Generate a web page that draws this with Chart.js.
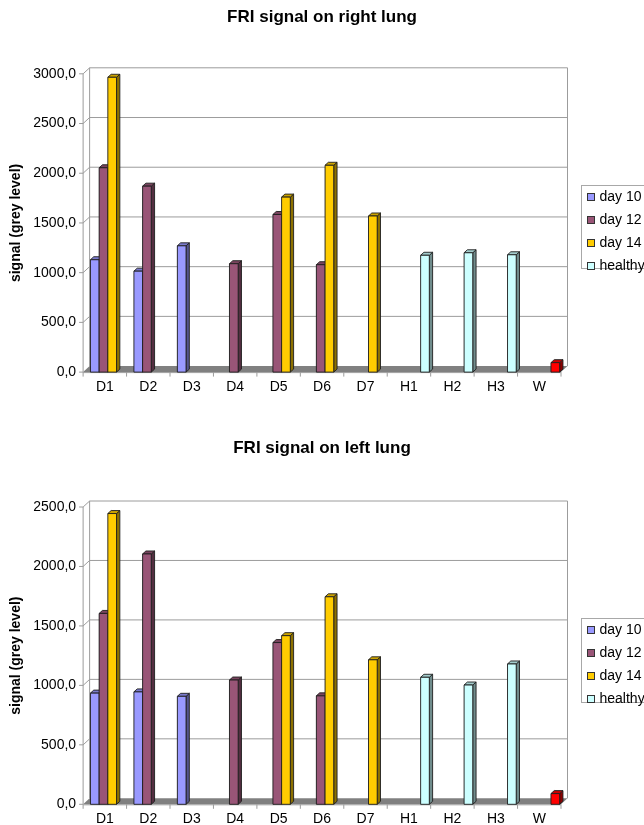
<!DOCTYPE html>
<html>
<head>
<meta charset="utf-8">
<script src="https://cdn.jsdelivr.net/npm/chart.js@4"></script>
<style>
  html, body { margin: 0; padding: 0; background: #fff; overflow: hidden; width: 644px; height: 825px; }
  canvas { position: absolute; left: 0; }
  #rightLung { top: 0; }
  #leftLung { top: 413px; }
</style>
</head>
<body>
<canvas id="rightLung" width="644" height="412"></canvas>
<canvas id="leftLung" width="644" height="422"></canvas>
<script>
// ---- data ----
const categories = ['D1', 'D2', 'D3', 'D4', 'D5', 'D6', 'D7', 'H1', 'H2', 'H3', 'W'];
const seriesNames = ['day 10', 'day 12', 'day 14', 'healthy'];
const seriesColors = ['#9999FF', '#995577', '#FFCC00', '#CCFFFF'];
const waterColor = '#FF0000';

// right lung signal
const rightDay10   = [1130, 1015, 1270, null, null, null, null, null, null, null, null];
const rightDay12   = [2055, 1870, null, 1090, 1585, 1080, null, null, null, null, null];
const rightDay14   = [2965, null, null, null, 1760, 2080, 1570, null, null, null, null];
const rightHealthy = [null, null, null, null, null, null, null, 1175, 1200, 1180, 95];
const rightTicks   = [0, 500, 1000, 1500, 2000, 2500, 3000];

// left lung signal
const leftDay10   = [935, 945, 908, null, null, null, null, null, null, null, null];
const leftDay12   = [1605, 2105, null, 1045, 1360, 912, null, null, null, null, null];
const leftDay14   = [2445, null, null, null, 1418, 1745, 1215, null, null, null, null];
const leftHealthy = [null, null, null, null, null, null, null, 1068, 1003, 1180, 90];
const leftTicks   = [0, 500, 1000, 1500, 2000, 2500];

// ---- drawing helpers ----
Chart.defaults.font.family = "'Liberation Sans', Arial, Helvetica, sans-serif";
Chart.defaults.color = '#000';

const FRONT_DX = -3;                 // front edge of the box sits left of the column row
const WALL_DX = 6.5, WALL_DY = -6;   // depth of the back wall
const BAR_DX = 3.3, BAR_DY = -3;     // depth of each column

function shade(hex, f) {
  const n = parseInt(hex.slice(1), 16);
  const r = Math.round(((n >> 16) & 255) * f);
  const g = Math.round(((n >> 8) & 255) * f);
  const b = Math.round((n & 255) * f);
  return `rgb(${r},${g},${b})`;
}

// back wall, side wall, floor and axis lines
const wallPlugin = {
  id: 'wall3d',
  beforeDatasetsDraw(chart) {
    const { ctx, chartArea: a } = chart;
    const ys = chart.scales.y, xs = chart.scales.x;
    const y0 = ys.getPixelForValue(0);
    const fl = a.left + FRONT_DX, fr = a.right + FRONT_DX;
    ctx.save();
    // floor
    ctx.fillStyle = '#808080';
    ctx.beginPath();
    ctx.moveTo(fl, y0);
    ctx.lineTo(fr, y0);
    ctx.lineTo(fr + WALL_DX, y0 + WALL_DY);
    ctx.lineTo(fl + WALL_DX, y0 + WALL_DY);
    ctx.closePath();
    ctx.fill();

    ctx.strokeStyle = '#9c9c9c';
    ctx.lineWidth = 1;
    ctx.beginPath();
    ys.ticks.forEach(t => {
      const py = ys.getPixelForValue(t.value);
      if (t.value > 0) {
        ctx.moveTo(fl + WALL_DX, py + WALL_DY);
        ctx.lineTo(fr + WALL_DX, py + WALL_DY);
        ctx.moveTo(fl, py);
        ctx.lineTo(fl + WALL_DX, py + WALL_DY);
      }
      ctx.moveTo(fl - 4, py);
      ctx.lineTo(fl, py);
    });
    ctx.moveTo(fl + WALL_DX, a.top + WALL_DY);
    ctx.lineTo(fl + WALL_DX, y0 + WALL_DY);
    ctx.moveTo(fr + WALL_DX, a.top + WALL_DY);
    ctx.lineTo(fr + WALL_DX, y0 + WALL_DY);
    ctx.moveTo(fl, a.top);
    ctx.lineTo(fl, y0);
    ctx.moveTo(fl, y0 + 0.5);
    ctx.lineTo(fr, y0 + 0.5);
    const step = xs.getPixelForValue(1) - xs.getPixelForValue(0);
    const first = xs.getPixelForValue(0) - step / 2 + FRONT_DX;
    for (let k = 0; k <= categories.length; k++) {
      const px = first + k * step;
      ctx.moveTo(px, y0);
      ctx.lineTo(px, y0 + 4.5);
    }
    ctx.stroke();
    ctx.restore();
  }
};

// columns drawn as boxes, left to right so neighbours overlap correctly
const boxPlugin = {
  id: 'box3d',
  afterDatasetsDraw(chart) {
    const { ctx } = chart;
    const items = [];
    chart.data.datasets.forEach((ds, di) => {
      const meta = chart.getDatasetMeta(di);
      meta.data.forEach((bar, i) => {
        if (ds.data[i] == null) return;
        const color = Array.isArray(ds.backgroundColor) ? ds.backgroundColor[i] : ds.backgroundColor;
        items.push({ p: bar.getProps(['x', 'y', 'base', 'width'], true), color });
      });
    });
    items.sort((u, v) => u.p.x - v.p.x);
    ctx.save();
    ctx.lineWidth = 0.9;
    ctx.strokeStyle = '#1e1e1e';
    ctx.lineJoin = 'round';
    items.forEach(({ p, color }) => {
      const x1 = p.x - p.width / 2, x2 = p.x + p.width / 2;
      const top = p.y, base = p.base;
      // side face
      ctx.fillStyle = shade(color, 0.55);
      ctx.beginPath();
      ctx.moveTo(x2, top);
      ctx.lineTo(x2 + BAR_DX, top + BAR_DY);
      ctx.lineTo(x2 + BAR_DX, base + BAR_DY);
      ctx.lineTo(x2, base);
      ctx.closePath();
      ctx.fill(); ctx.stroke();
      // top face
      ctx.fillStyle = shade(color, 0.8);
      ctx.beginPath();
      ctx.moveTo(x1, top);
      ctx.lineTo(x1 + BAR_DX, top + BAR_DY);
      ctx.lineTo(x2 + BAR_DX, top + BAR_DY);
      ctx.lineTo(x2, top);
      ctx.closePath();
      ctx.fill(); ctx.stroke();
      // front face
      ctx.fillStyle = color;
      ctx.fillRect(x1, top, x2 - x1, base - top);
      ctx.strokeRect(x1, top, x2 - x1, base - top);
    });
    ctx.restore();
  }
};

// boxed legend on the right
const sideLegendPlugin = {
  id: 'sideLegend',
  afterDraw(chart) {
    const { ctx, chartArea: a } = chart;
    const left = Math.round(a.right + FRONT_DX + 20) + 0.5;
    const top = Math.round(a.top + 111) + 0.5;
    const bottom = Math.round(a.top + 194.5) + 0.5;
    ctx.save();
    ctx.strokeStyle = '#a8a8a8';
    ctx.lineWidth = 1;
    ctx.strokeRect(left, top, chart.width + 10 - left, bottom - top);
    ctx.font = "14px 'Liberation Sans', Arial, sans-serif";
    ctx.textBaseline = 'middle';
    ctx.textAlign = 'left';
    seriesNames.forEach((name, i) => {
      const cy = a.top + 123 + 23 * i;
      ctx.fillStyle = seriesColors[i];
      ctx.fillRect(left + 6, Math.round(cy - 4) + 0.5, 7, 7);
      ctx.strokeStyle = '#333';
      ctx.strokeRect(left + 6, Math.round(cy - 4) + 0.5, 7, 7);
      ctx.fillStyle = '#000';
      ctx.fillText(name, left + 18, cy);
    });
    ctx.restore();
  }
};

// centre the title over the whole page width
const titleSpanPlugin = {
  id: 'titleSpan',
  afterLayout(chart) {
    if (chart.titleBlock) {
      chart.titleBlock.left = 0;
      chart.titleBlock.right = chart.width;
    }
  }
};

function decimalComma(v) {
  return Number(v).toFixed(1).replace('.', ',');
}

function buildChart(id, title, series, ticks, pad) {
  const datasets = series.map((values, i) => ({
    label: seriesNames[i],
    data: values,
    backgroundColor: i === 3
      ? categories.map(c => (c === 'W' ? waterColor : seriesColors[3]))
      : seriesColors[i],
    borderColor: '#1e1e1e',
    borderWidth: 0.9,
    categoryPercentage: 0.8,
    barPercentage: 1.0
  }));
  return new Chart(document.getElementById(id), {
    type: 'bar',
    data: { labels: categories, datasets },
    plugins: [titleSpanPlugin, wallPlugin, boxPlugin, sideLegendPlugin],
    options: {
      responsive: false,
      animation: false,
      devicePixelRatio: 1,
      events: [],
      layout: { padding: { left: 4, right: 80, top: 0, bottom: pad.bottom } },
      plugins: {
        legend: { display: false },
        tooltip: { enabled: false },
        title: {
          display: true,
          text: title,
          color: '#000',
          font: { size: 17, weight: 'bold' },
          padding: { top: pad.titleTop, bottom: pad.titleBottom }
        }
      },
      scales: {
        x: {
          grid: { display: false, drawTicks: false },
          border: { display: false },
          ticks: {
            font: { size: 14, lineHeight: 1.1 }, padding: 7, labelOffset: FRONT_DX,
            maxRotation: 0, autoSkip: false, color: '#000'
          }
        },
        y: {
          min: ticks[0],
          max: ticks[ticks.length - 1],
          afterBuildTicks: scale => { scale.ticks = ticks.map(v => ({ value: v })); },
          grid: { display: false, drawTicks: false },
          border: { display: false },
          ticks: { font: { size: 14 }, padding: 7 - FRONT_DX, color: '#000', callback: decimalComma },
          title: {
            display: true,
            text: 'signal (grey level)',
            color: '#000',
            font: { size: 14, weight: 'bold' },
            padding: { top: 4, bottom: -1.5 }
          }
        }
      }
    }
  });
}

buildChart('rightLung', 'FRI signal on right lung',
  [rightDay10, rightDay12, rightDay14, rightHealthy], rightTicks,
  { titleTop: 7, titleBottom: 46.4, bottom: 10.5 });

buildChart('leftLung', 'FRI signal on left lung',
  [leftDay10, leftDay12, leftDay14, leftHealthy], leftTicks,
  { titleTop: 25, titleBottom: 48.6, bottom: 1.3 });
</script>
</body>
</html>
